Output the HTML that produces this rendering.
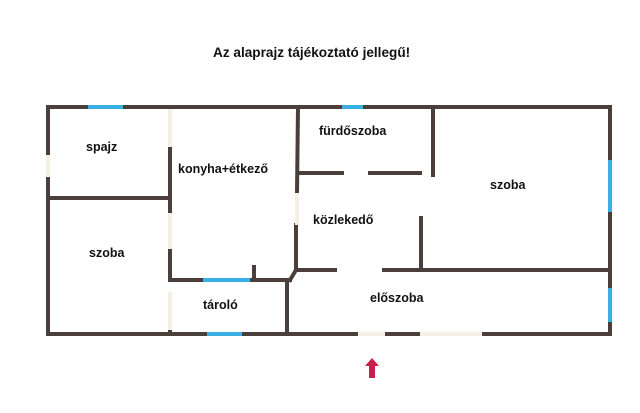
<!DOCTYPE html>
<html><head><style>
body{margin:0;background:#fff;width:640px;height:413px;overflow:hidden;position:relative;font-family:"Liberation Sans",Arial,sans-serif;}
svg{position:absolute;left:0;top:0}
.t{position:absolute;font-weight:bold;font-size:12.5px;color:#111;white-space:nowrap}
</style></head><body>
<svg width="640" height="413">
<g stroke="#4a3f3b" stroke-width="4" fill="none" stroke-linecap="square">
<line x1="48" y1="107" x2="610" y2="107"/>
<line x1="48" y1="107" x2="48" y2="155"/>
<line x1="48" y1="177" x2="48" y2="334"/>
<line x1="48" y1="334" x2="358" y2="334"/>
<line x1="385" y1="334" x2="420" y2="334"/>
<line x1="482" y1="334" x2="610" y2="334"/>
<line x1="610" y1="107" x2="610" y2="334"/>
<line x1="48" y1="198" x2="170" y2="198"/>
<line x1="170" y1="147" x2="170" y2="213"/>
<line x1="170" y1="249" x2="170" y2="280"/>
<line x1="170" y1="280" x2="290" y2="280"/>
<line x1="254" y1="267" x2="254" y2="280"/>
<line x1="170" y1="330" x2="170" y2="334"/>
<line x1="287" y1="280" x2="287" y2="334"/>
<polyline points="290,280 296,270 296,225"/>
<line x1="297" y1="193" x2="298" y2="107"/>
<line x1="298" y1="173" x2="342" y2="173"/>
<line x1="370" y1="173" x2="420" y2="173"/>
<line x1="433" y1="107" x2="433" y2="175"/>
<line x1="421" y1="218" x2="421" y2="270"/>
<line x1="298" y1="270" x2="335" y2="270"/>
<line x1="384" y1="270" x2="610" y2="270"/>
</g>
<g stroke="#3bb0e6" stroke-width="4">
<line x1="88" y1="107" x2="123" y2="107"/>
<line x1="342" y1="107" x2="363" y2="107"/>
<line x1="203" y1="280" x2="250" y2="280"/>
<line x1="207" y1="334" x2="242" y2="334"/>
<line x1="610" y1="160" x2="610" y2="212"/>
<line x1="610" y1="288" x2="610" y2="322"/>
</g>
<g stroke="#f6efe4" stroke-width="4">
<line x1="48" y1="155" x2="48" y2="177"/>
<line x1="170" y1="109" x2="170" y2="147"/>
<line x1="170" y1="213" x2="170" y2="249"/>
<line x1="170" y1="292" x2="170" y2="330"/>
<line x1="297" y1="193" x2="297" y2="225"/>
<line x1="358" y1="334" x2="385" y2="334"/>
<line x1="420" y1="334" x2="482" y2="334"/>
</g>
<polygon points="372,358 379,366 375,366 375,378 369,378 369,366 365,366" fill="#c8204a"/>
</svg>
<div class="t" style="left:213px;top:45px;font-size:13.6px">Az alaprajz tájékoztató jellegű!</div>
<div class="t" style="left:86px;top:140px">spajz</div>
<div class="t" style="left:178px;top:162px">konyha+étkező</div>
<div class="t" style="left:89px;top:246px">szoba</div>
<div class="t" style="left:203px;top:298px">tároló</div>
<div class="t" style="left:319px;top:124px">fürdőszoba</div>
<div class="t" style="left:490px;top:178px">szoba</div>
<div class="t" style="left:313px;top:213px">közlekedő</div>
<div class="t" style="left:370px;top:291px">előszoba</div>
</body></html>
